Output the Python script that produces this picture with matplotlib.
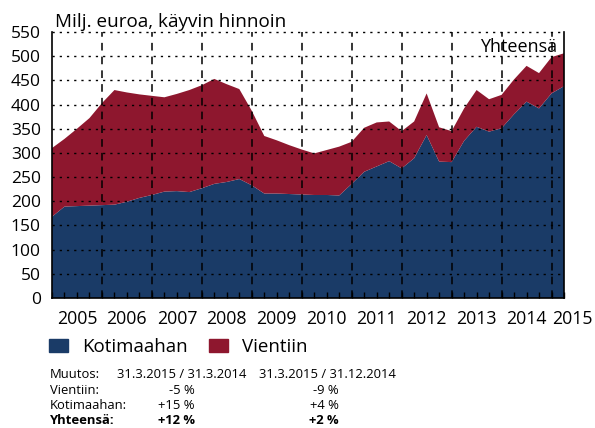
import numpy as np
import matplotlib
matplotlib.use('Agg')
import matplotlib.pyplot as plt
from matplotlib.patches import Patch

plt.rcParams['font.family'] = ['Open Sans', 'DejaVu Sans']

# neljännesvuosittaiset arvot, milj. euroa (2005 ... 31.3.2015)
kotimaahan = [168, 189, 190, 191, 192, 193, 199, 207, 213, 220,
              221, 219, 227, 236, 240, 246, 233, 216, 216, 215,
              214, 213, 213, 212, 236, 261, 272, 283, 268, 289,
              337, 282, 281, 325, 354, 344, 351, 380, 406, 392,
              423, 438]
vientiin = [142, 140, 160, 181, 211, 237, 226, 214, 205, 195,
            201, 211, 213, 217, 202, 186, 154, 119, 110, 101,
            93, 86, 93, 101, 87, 91, 91, 82, 77, 76,
            86, 71, 64, 67, 76, 67, 69, 72, 74, 73,
            75, 68]
x = 2005 + 0.25 * np.arange(len(kotimaahan))

vuodet = list(range(2005, 2016))
y_ticks = list(range(0, 551, 50))

muutos_rivit = [
    ('Muutos:', '31.3.2015 / 31.3.2014', '31.3.2015 / 31.12.2014'),
    ('Vientiin:', '-5 %', '-9 %'),
    ('Kotimaahan:', '+15 %', '+4 %'),
    ('Yhteensä:', '+12 %', '+2 %'),
]

sininen = '#1a3b67'
punainen = '#8e172e'

fig = plt.figure(figsize=(5.95, 4.28), dpi=100)
ax = fig.add_axes([52 / 595, 1 - 298 / 428, 512 / 595, 266 / 428])

ax.stackplot(x, kotimaahan, vientiin, colors=[sininen, punainen], lw=0, zorder=1)

ax.set_xlim(2005, 2015.25)
ax.set_ylim(0, 550)

# ruudukko
for yv in y_ticks[1:]:
    ax.axhline(yv, color='black', lw=1.0, ls=(0, (1.6, 3.6)), zorder=3, clip_on=False)
for v in vuodet[1:]:
    ax.axvline(v, color='black', lw=1.1, ls=(0, (5, 4)), zorder=3, clip_on=False)

ax.spines['top'].set_visible(False)
for s in ['left', 'bottom', 'right']:
    ax.spines[s].set_linewidth(1.2)
    ax.spines[s].set_zorder(4)

ax.set_yticks(y_ticks)
ax.tick_params(axis='y', length=0, pad=8, labelsize=12.5)
ax.set_xticks(x)
ax.set_xticklabels([])
ax.tick_params(axis='x', direction='in', length=4, width=1)

# vuosiluvut vuosien keskelle
for v in vuodet:
    xc = v + 0.5 if v < 2015 else v + 0.42
    ax.annotate(str(v), xy=(xc, 0), xycoords=('data', 'axes fraction'),
                xytext=(0, -8.6), textcoords='offset points',
                ha='center', va='top', fontsize=12.8, annotation_clip=False)

fig.text(55 / 595, 1 - 27 / 428, 'Milj. euroa, käyvin hinnoin', fontsize=13.6,
         va='baseline', ha='left')
fig.text(557 / 595, 1 - 52 / 428, 'Yhteensä', fontsize=13,
         va='baseline', ha='right')

handles = [Patch(color=sininen, label='Kotimaahan'),
           Patch(color=punainen, label='Vientiin')]
fig.legend(handles=handles, loc='center left', bbox_to_anchor=(49 / 595, 1 - 347 / 428),
           ncol=2, frameon=False, fontsize=13.5, handlelength=1.0, handleheight=0.75,
           handletextpad=0.75, columnspacing=1.17, borderaxespad=0, borderpad=0)

rivi_y = [378, 393.5, 409, 424.5]
for (a, b, c), yy in zip(muutos_rivit, rivi_y):
    paino = 'bold' if a == 'Yhteensä:' else 'normal'
    fy = 1 - yy / 428
    fig.text(50 / 595, fy, a, fontsize=9.4, va='baseline', weight=paino)
    if a == 'Muutos:':
        fig.text(117 / 595, fy, b, fontsize=9.4, va='baseline')
        fig.text(259 / 595, fy, c, fontsize=9.4, va='baseline')
    else:
        fig.text(195 / 595, fy, b, fontsize=9.4, va='baseline', ha='right', weight=paino)
        fig.text(339 / 595, fy, c, fontsize=9.4, va='baseline', ha='right', weight=paino)

fig.savefig('out.png', dpi=100)
